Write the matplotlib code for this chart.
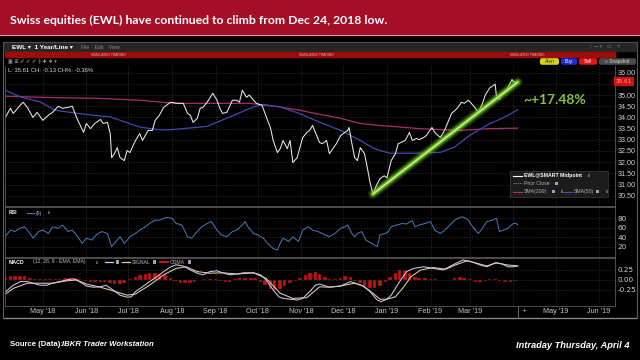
"""EWL 1-year chart (price + SMA, RSI, MACD) redrawn from an IBKR TWS screenshot."""

import numpy as np
import pandas as pd
import matplotlib

matplotlib.use("Agg")
import matplotlib.pyplot as plt
from matplotlib.patches import Rectangle, FancyBboxPatch
from matplotlib.ticker import FormatStrFormatter

W, H = 640, 360
BASE = pd.Timestamp("2018-05-01")  # day 0 for every *_day list below

TITLE = "Swiss equities (EWL) have continued to climb from Dec 24, 2018 low."
GAIN_LABEL = "~+17.48%"
LAST_PRICE = "35.61"

price_day = [-25, -21, -19, -14, -12, -9, -5, -2, 2, 6, 9, 13, 16, 20, 23, 26, 28, 31, 33, 36,
             39, 43, 45, 48, 50, 51, 53, 55, 57, 60, 62, 64, 68, 71, 73, 77, 80, 82, 85, 88,
             93, 98, 102, 105, 107, 109, 112, 114, 116, 119, 123, 126, 128, 130, 133, 137, 140, 142, 144, 147,
             149, 152, 154, 158, 162, 164, 166, 169, 171, 173, 176, 178, 180, 183, 185, 187, 190, 192, 194, 197,
             199, 201, 204, 206, 209, 211, 214, 216, 219, 220, 222, 224, 226, 228, 231, 233, 235, 237, 240, 242,
             245, 247, 250, 253, 255, 257, 260, 263, 265, 268, 270, 273, 275, 279, 281, 285, 288, 290, 293, 297,
             300, 302, 305, 307, 310, 312, 315, 317, 320, 324, 325, 327, 330, 332, 334, 336, 337, 338]
price_val = [33.96, 34.41, 34.18, 34.55, 34.68, 34.45, 34.00, 34.23, 33.87, 34.10, 34.23, 34.50, 34.41, 34.45, 34.50, 34.00, 33.73, 33.33, 33.73, 33.50,
             33.73, 33.91, 33.73, 33.78, 33.28, 32.20, 32.38, 32.65, 32.20, 32.07, 32.52, 32.43, 32.97, 33.28, 32.97, 33.42, 33.42, 33.87, 34.10, 34.45,
             34.68, 34.63, 34.63, 34.18, 34.10, 33.78, 33.96, 34.41, 34.45, 34.68, 35.08, 34.77, 34.41, 34.18, 34.23, 34.77, 34.77, 34.68, 35.22, 34.90,
             35.00, 34.77, 34.63, 34.55, 33.87, 33.55, 32.97, 32.43, 32.60, 32.97, 32.60, 32.97, 31.98, 32.20, 32.65, 33.10, 33.33, 33.42, 33.64, 33.19,
             32.88, 32.83, 32.97, 32.38, 32.65, 32.83, 33.19, 33.28, 33.42, 33.55, 32.83, 32.20, 32.07, 32.65, 32.38, 31.75, 31.08, 30.58, 31.03, 31.26,
             31.39, 31.30, 32.07, 32.38, 32.83, 32.88, 32.97, 33.33, 32.97, 33.06, 33.01, 33.10, 33.19, 33.55, 33.33, 33.10, 33.42, 33.73, 34.18, 34.41,
             34.68, 34.63, 34.77, 34.63, 34.41, 34.23, 34.63, 35.00, 35.31, 35.49, 34.90, 34.81, 35.08, 35.22, 35.45, 35.70, 35.58, 35.61]

sma200_day = [-25, 7, 43, 71, 96, 149, 171, 185, 199, 214, 228, 242, 270, 299, 320, 340]
sma200_val = [34.95, 34.89, 34.85, 34.77, 34.63, 34.63, 34.47, 34.32, 34.14, 33.96, 33.73, 33.64, 33.50, 33.42, 33.50, 33.52]

sma50_day = [-25, -14, 0, 11, 28, 50, 71, 85, 93, 119, 135, 152, 159, 171, 185, 199, 214, 228, 238, 249,
             270, 285, 295, 306, 320, 331, 340]
sma50_val = [35.22, 34.92, 34.70, 34.32, 34.17, 34.02, 33.57, 33.45, 33.45, 33.60, 34.02, 34.47, 34.58, 34.47, 34.17, 33.79, 33.42, 32.97, 32.60, 32.40,
             32.40, 32.44, 32.67, 33.20, 33.72, 34.02, 34.35]

trend_day = [237, 340]
trend_val = [30.58, 35.58]

rsi_day = [-25, -21, -18, -14, -11, -7, -5, -1, 2, 6, 9, 13, 16, 20, 23, 27, 30, 33, 37, 40,
           44, 48, 51, 55, 57, 60, 64, 68, 71, 75, 78, 82, 85, 90, 94, 97, 101, 105, 108, 112,
           115, 119, 122, 126, 129, 133, 137, 140, 144, 146, 148, 152, 155, 159, 162, 166, 169, 171, 173, 177,
           180, 184, 187, 191, 194, 198, 203, 206, 210, 214, 217, 219, 222, 224, 226, 229, 232, 236, 240, 241,
           242, 246, 248, 250, 254, 258, 261, 265, 267, 270, 274, 278, 281, 285, 288, 292, 295, 299, 301, 305,
           308, 312, 314, 318, 322, 325, 327, 330, 333, 337, 339, 340]
rsi_val = [41, 55, 52, 59, 62, 48, 38, 52, 55, 48, 62, 59, 66, 52, 55, 41, 27, 38, 34, 45,
           52, 48, 20, 34, 41, 27, 41, 48, 55, 62, 69, 76, 76, 82, 80, 69, 66, 41, 38, 52,
           62, 69, 73, 55, 45, 41, 52, 55, 66, 73, 62, 48, 45, 38, 27, 16, 13, 27, 38, 31,
           41, 31, 55, 62, 55, 52, 45, 41, 48, 59, 62, 66, 48, 41, 48, 52, 34, 27, 20, 31,
           45, 48, 52, 62, 66, 69, 68, 75, 62, 66, 69, 73, 55, 48, 55, 66, 76, 82, 83, 76,
           62, 48, 55, 73, 76, 80, 52, 55, 59, 69, 69, 66]

macd_day = [-25, -23, -19, -14, -9, -5, 0, 5, 9, 14, 19, 23, 26, 30, 33, 38, 43, 47, 52, 57,
            62, 65, 68, 73, 78, 83, 88, 93, 97, 102, 107, 112, 116, 121, 126, 130, 135, 140, 145, 152,
            157, 161, 166, 170, 173, 178, 183, 187, 192, 196, 199, 206, 214, 221, 226, 230, 235, 240, 243, 247,
            250, 256, 261, 266, 273, 280, 287, 294, 301, 307, 313, 318, 324, 329, 333, 337, 340]
macd_val = [-0.31, -0.25, -0.13, -0.04, -0.04, -0.08, -0.13, -0.13, -0.08, -0.04, 0.0, 0.03, 0.0, -0.08, -0.15, -0.18, -0.17, -0.13, -0.25, -0.38,
            -0.43, -0.42, -0.29, -0.17, -0.04, 0.08, 0.21, 0.33, 0.38, 0.35, 0.25, 0.17, 0.13, 0.21, 0.23, 0.18, 0.13, 0.15, 0.18, 0.18,
            0.13, 0.0, -0.25, -0.42, -0.46, -0.48, -0.50, -0.46, -0.29, -0.13, -0.10, -0.18, -0.15, -0.04, -0.10, -0.15, -0.29, -0.50, -0.54, -0.48,
            -0.38, -0.04, 0.21, 0.29, 0.33, 0.29, 0.25, 0.38, 0.50, 0.46, 0.38, 0.33, 0.43, 0.40, 0.33, 0.33, 0.35]

signal_day = [-25, -19, -9, 0, 9, 19, 26, 33, 43, 52, 62, 68, 78, 88, 97, 104, 112, 121, 130, 140,
              152, 161, 171, 180, 190, 199, 206, 214, 224, 230, 237, 242, 247, 253, 259, 264, 271, 280, 289, 296,
              304, 311, 318, 325, 332, 340]
signal_val = [-0.36, -0.21, -0.08, -0.08, -0.08, -0.02, 0.0, -0.10, -0.18, -0.27, -0.38, -0.35, -0.13, 0.13, 0.29, 0.33, 0.21, 0.17, 0.18, 0.15,
              0.18, 0.04, -0.33, -0.46, -0.44, -0.17, -0.18, -0.15, -0.08, -0.15, -0.33, -0.48, -0.48, -0.42, -0.17, 0.08, 0.25, 0.31, 0.27, 0.38,
              0.48, 0.42, 0.35, 0.43, 0.38, 0.35]

hist_day = [-25, -21, -18, -14, -11, -7, -4, 0, 4, 7, 11, 14, 18, 21, 25, 28, 32, 36, 39, 43,
            46, 50, 53, 57, 60, 64, 68, 71, 75, 78, 82, 85, 89, 93, 96, 100, 103, 107, 110, 114,
            117, 121, 125, 128, 132, 135, 139, 142, 146, 150, 153, 157, 160, 164, 167, 171, 174, 178, 182, 185,
            189, 192, 196, 199, 203, 206, 210, 214, 217, 221, 224, 228, 231, 235, 238, 242, 246, 249, 253, 256,
            260, 263, 267, 270, 274, 278, 281, 285, 288, 292, 295, 299, 302, 306, 310, 313, 317, 320, 324, 327,
            331, 335, 338]
hist_val = [0.06, 0.09, 0.10, 0.10, 0.09, 0.05, 0.03, 0.03, 0.02, 0.03,
            0.03, 0.03, 0.04, 0.05, 0.05, 0.02, -0.03, -0.05, -0.05, -0.04,
            -0.05, -0.08, -0.10, -0.10, -0.07, 0.02, 0.08, 0.12, 0.15, 0.17,
            0.17, 0.15, 0.12, 0.06, -0.03, -0.07, -0.08, -0.07, -0.05, 0.01,
            0.03, 0.03, 0.02, -0.03, -0.05, -0.04, 0.03, 0.04, 0.05, 0.05,
            0.04, -0.05, -0.12, -0.22, -0.25, -0.22, -0.15, -0.08, -0.03, 0.05,
            0.12, 0.18, 0.19, 0.15, 0.08, 0.03, 0.02, 0.06, 0.10, 0.08,
            -0.03, -0.08, -0.14, -0.19, -0.20, -0.15, -0.05, 0.08, 0.18, 0.25,
            0.24, 0.17, 0.08, 0.05, 0.04, 0.03, 0.02, 0.01, 0.01, 0.01,
            0.05, 0.07, 0.06, 0.02, -0.04, -0.05, -0.03, 0.03, 0.03, -0.03,
            -0.04, -0.04, -0.03]

price_ticks = [30.5, 31.0, 31.5, 32.0, 32.5, 33.0, 33.5, 34.0, 34.5, 35.0, 35.5, 36.0]
# 35.50 sits under the last-price tag in the screenshot
price_tick_labels = ["30.50", "31.00", "31.50", "32.00", "32.50", "33.00", "33.50",
                     "34.00", "34.50", "35.00", "", "36.00"]
rsi_ticks = [20, 40, 60, 80]
macd_ticks = [-0.25, 0.0, 0.25]
month_labels = ["May '18", "Jun '18", "Jul '18", "Aug '18", "Sep '18", "Oct '18", "Nov '18",
                "Dec '18", "Jan '19", "Feb '19", "Mar '19", "", "May '19", "Jun '19"]

UI = ["Liberation Sans", "DejaVu Sans"]


def days(d):
    return BASE + pd.to_timedelta(np.asarray(d, dtype=float), unit="D")


def box(x0, y0, x1, y1):
    # pixel box (top-left origin) -> figure fraction rect
    return [x0 / W, 1 - y1 / H, (x1 - x0) / W, (y1 - y0) / H]


def main():
    fig = plt.figure(figsize=(6.4, 3.6), dpi=100, facecolor="black")

    bg = fig.add_axes([0, 0, 1, 1], zorder=0)
    bg.set_xlim(0, W)
    bg.set_ylim(H, 0)
    bg.axis("off")

    # title banner
    bg.add_patch(Rectangle((0, 0), W, 35, color="#a50f26"))
    bg.plot([0, W], [35, 35], color="#d59aa3", lw=0.8)
    bg.text(10, 24, TITLE, color="white", fontsize=8.8, fontweight="bold",
            family=["Lato", "DejaVu Sans"], va="baseline")

    # TWS window chrome
    bg.add_patch(Rectangle((3, 42), 634, 276, fill=False, ec="#5c5c5c", lw=0.8))
    bg.add_patch(Rectangle((4, 43), 632, 8, color="#262626"))
    bg.text(12, 47.5, "EWL \u25be  1 Year/Line \u25be", color="white", fontsize=4.6,
            fontweight="bold", family=UI, va="center")
    bg.text(81, 47.5, "File    Edit    View", color="#8a8a8a", fontsize=3.6, family=UI, va="center")
    bg.text(590, 47.5, "\u2215  \u2501 \u25be   \u25ad   \u2715", color="#6a6a6a", fontsize=3.6,
            family=["DejaVu Sans"], va="center")
    bg.add_patch(Rectangle((5, 52), 610, 5, color="#9e0b0b"))
    for sx in (108, 316, 527):
        bg.text(sx, 54.6, "SIMULATED TRADING", color="#e6b4b4", fontsize=2.4,
                family=UI, ha="center", va="center")
    bg.text(8, 61.5, "\u25a3 \u229e \u2710 \u2710 \u2710 \u253c \u271a \u2725 \u25be", color="#a8a8a8",
            fontsize=3.6, family=["DejaVu Sans"], va="center")
    buttons = [(540, 559, "#d9d21e", "Alert", "#333333"), (561, 577, "#1c2cd6", "Buy", "white"),
               (579, 597, "#e01616", "Sell", "white"), (599, 636, "#4a4a4a", "\u25cb Snapshot", "#dddddd")]
    for x0, x1, fc, lab, tc in buttons:
        bg.add_patch(FancyBboxPatch((x0, 58.2), x1 - x0, 6.6,
                                    boxstyle="round,pad=0,rounding_size=2", fc=fc, ec="none"))
        bg.text((x0 + x1) / 2, 61.6, lab, color=tc, fontsize=3.4, family=UI, ha="center", va="center")
    bg.text(8, 70, "L: 35.61 CH: -0.13 CH%: -0.36%", color="#dcdcdc", fontsize=4.2,
            family=UI, va="center")

    # panels
    ax_p = fig.add_axes(box(5, 66, 615, 206), zorder=2)
    ax_r = fig.add_axes(box(5, 207, 615, 257), sharex=ax_p, zorder=2)
    ax_m = fig.add_axes(box(5, 258, 615, 306), sharex=ax_p, zorder=2)

    for ax in (ax_p, ax_r, ax_m):
        ax.set_facecolor("none")
        for s in ax.spines.values():
            s.set_color("#5a5a5a")
            s.set_linewidth(0.6)
        ax.yaxis.tick_right()
        ax.tick_params(axis="y", length=0, labelsize=5.2, labelcolor="#d2d2d2", pad=2)
        ax.tick_params(axis="x", length=0, labelsize=5.2, labelcolor="#c8c8c8", pad=1.5)
        ax.grid(True, color="#303030", lw=0.5, ls=(0, (2, 2)))
    ax_p.spines["top"].set_visible(False)

    # price panel
    ax_p.plot(days(sma200_day), sma200_val, color="#a3306a", lw=0.9)
    ax_p.plot(days(sma50_day), sma50_val, color="#4646b0", lw=0.9)
    ax_p.plot(days(price_day), price_val, color="#e8e8e8", lw=0.75)
    for lw, a, c in [(7.5, 0.15, "#8fd63c"), (5, 0.35, "#7ccc2e"), (3, 0.95, "#64b81c"), (1.0, 1.0, "#d6f59c")]:
        ax_p.plot(days(trend_day), trend_val, color=c, lw=lw, alpha=a, solid_capstyle="round")
    ax_p.set_ylim(30.04, 36.30)
    ax_p.set_yticks(price_ticks)
    ax_p.set_yticklabels(price_tick_labels, family=UI)
    ax_p.text(1.002, price_val[-1], LAST_PRICE, transform=ax_p.get_yaxis_transform(),
              ha="left", va="center", fontsize=4.6, color="#ff9a9a", family=UI, clip_on=False,
              bbox=dict(boxstyle="square,pad=0.3", fc="#d41010", ec="none"))

    # RSI panel
    ax_r.plot(days(rsi_day), rsi_val, color="#4a7db8", lw=0.7)
    ax_r.set_ylim(-1.8, 103.9)
    ax_r.set_yticks(rsi_ticks)

    # MACD panel
    ax_m.bar(days(hist_day), hist_val, width=2.6, color="#c41212", edgecolor="black", lw=0.2)
    ax_m.plot(days(signal_day), signal_val, color="#e6cfa8", lw=0.75)
    ax_m.plot(days(macd_day), macd_val, color="#cfc8ec", lw=0.75)
    ax_m.set_ylim(-0.65, 0.55)
    ax_m.set_yticks(macd_ticks)
    ax_m.yaxis.set_major_formatter(FormatStrFormatter("%.2f"))

    months = pd.date_range("2018-05-01", "2019-06-01", freq="MS") + pd.Timedelta(days=2)
    ax_m.set_xticks(months)
    ax_m.set_xticklabels(month_labels, family=UI)
    ax_m.set_xlim(days([-24.9])[0], days([409.3])[0])
    ax_p.tick_params(labelbottom=False)
    ax_r.tick_params(labelbottom=False)

    # overlay: legends, labels, annotation
    ov = fig.add_axes([0, 0, 1, 1], zorder=5)
    ov.set_xlim(0, W)
    ov.set_ylim(H, 0)
    ov.axis("off")

    ov.text(523, 100, GAIN_LABEL, color="#86c440", fontsize=10, fontweight="bold",
            family=["Lato", "DejaVu Sans"], va="center")

    ov.add_patch(Rectangle((510, 171), 98, 26, fc="#1b1b1b", ec="#3c3c3c", lw=0.5))
    ov.plot([513, 522], [175.7, 175.7], color="white", lw=0.8)
    ov.text(524, 175.7, "EWL@SMART Midpoint", color="white", fontsize=3.7, fontweight="bold",
            family=UI, va="center")
    ov.text(586, 175.7, "\u21a1", color="#aaaaaa", fontsize=3.4, va="center")
    ov.plot([513, 522], [183.3, 183.3], color="#888888", lw=0.6, ls=(0, (1.5, 1)))
    ov.text(524, 183.3, "Prior Close", color="#b0b0b0", fontsize=3.7, family=UI, va="center")
    ov.plot([513, 522], [191.5, 191.5], color="#a3306a", lw=0.9)
    ov.text(524, 191.5, "SMA(200)", color="#b0b0b0", fontsize=3.7, family=UI, va="center")
    ov.plot([563, 572], [191.5, 191.5], color="#4646b0", lw=0.9)
    ov.text(574, 191.5, "SMA(50)", color="#b0b0b0", fontsize=3.7, family=UI, va="center")
    for cx, cy in [(555, 183.3), (552, 191.5), (596, 191.5)]:
        ov.add_patch(Rectangle((cx, cy - 1.6), 3.2, 3.2, fc="#9aa4b8", ec="none"))
    for cx in (559, 604):
        ov.text(cx, 191.5, "\u21a1", color="#aaaaaa", fontsize=3.4, va="center")

    ov.text(9, 213, "RSI", color="white", fontsize=3.7, fontweight="bold", family=UI, va="center")
    ov.plot([27, 34], [213, 213], color="#4a7db8", lw=0.8)
    ov.text(36, 213, "(9)", color="#bbbbbb", fontsize=3.7, family=UI, va="center")
    ov.text(46, 213, "\u21a1", color="#aaaaaa", fontsize=3.4, va="center")

    ov.text(9, 262, "MACD", color="white", fontsize=3.7, fontweight="bold", family=UI, va="center")
    ov.text(33, 262, "(12, 26, 9 - EMA, EMA)", color="#bbbbbb", fontsize=3.7, family=UI, va="center")
    ov.text(94, 262, "\u21a1", color="#aaaaaa", fontsize=3.4, va="center")
    ov.plot([105, 113], [262, 262], color="#cfc8ec", lw=0.9)
    ov.plot([122, 130], [262, 262], color="#e6cfa8", lw=0.9)
    ov.text(132, 262, "SIGNAL", color="#bbbbbb", fontsize=3.7, family=UI, va="center")
    ov.plot([160, 168], [262, 262], color="#d01414", lw=1.4)
    ov.text(170, 262, "OSMA", color="#bbbbbb", fontsize=3.7, family=UI, va="center")
    for cx in (116, 153, 188):
        ov.add_patch(Rectangle((cx, 260.4), 3.2, 3.2, fc="#9aa4b8", ec="none"))

    ov.plot([518, 518], [306, 317], color="#777777", lw=0.6)
    ov.text(521, 311, "+", color="#cccccc", fontsize=4.5, va="center")
    ov.plot([4, 636], [317.5, 317.5], color="#8a8a8a", lw=0.9)

    # footer
    ov.text(10, 345, "Source (Data):", color="white", fontsize=5.6, fontweight="bold",
            family=UI, va="center")
    ov.text(62, 345, "IBKR Trader Workstation", color="white", fontsize=5.6, fontweight="bold",
            style="italic", family=UI, va="center")
    ov.text(630, 345, "Intraday Thursday, April 4", color="white", fontsize=6.7, fontweight="bold",
            style="italic", family=UI, ha="right", va="center")

    fig.savefig("out.png", dpi=100, facecolor="black")


if __name__ == "__main__":
    main()
